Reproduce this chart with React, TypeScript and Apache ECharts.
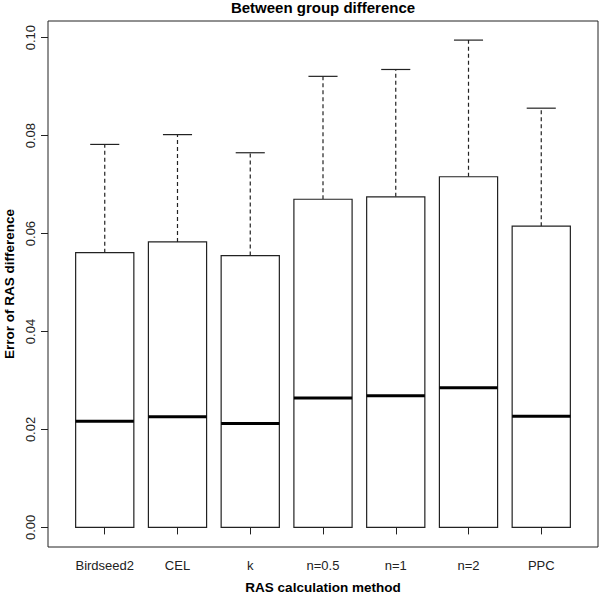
import React, { useEffect, useRef } from "react";
import * as echarts from "echarts";

const categories = ["Birdseed2", "CEL", "k", "n=0.5", "n=1", "n=2", "PPC"];
const whiskerLow = [0, 0, 0, 0, 0, 0, 0];
const q1Values = [0, 0, 0, 0, 0, 0, 0];
const medianValues = [0.0217, 0.0226, 0.0212, 0.0264, 0.0269, 0.0285, 0.0227];
const q3Values = [0.0561, 0.0583, 0.0555, 0.067, 0.0675, 0.0716, 0.0615];
const whiskerHigh = [0.0782, 0.0802, 0.0765, 0.0921, 0.0935, 0.0995, 0.0856];
const yTicks = [0, 0.02, 0.04, 0.06, 0.08, 0.1];

const FONT = "'Liberation Sans', Arial, sans-serif";
const INK = "#222";

export default function App() {
  const ref = useRef<HTMLDivElement>(null);
  useEffect(() => {
    if (!ref.current) return;
    document.body.style.margin = "0";
    const chart = echarts.init(ref.current, undefined, { renderer: "svg" });
    const positions = categories.map((_, i) => i + 1);
    const data = categories.map((_, i) => [
      i + 1,
      whiskerLow[i],
      q1Values[i],
      medianValues[i],
      q3Values[i],
      whiskerHigh[i],
    ]);
    chart.setOption({
      animation: false,
      backgroundColor: "#fff",
      title: {
        text: "Between group difference",
        left: 323,
        textAlign: "center",
        top: 0,
        padding: 0,
        textStyle: { fontFamily: FONT, fontSize: 15, fontWeight: "bold", color: "#000" },
      },
      grid: {
        left: 48,
        right: 2,
        top: 21,
        bottom: 48,
        outerBoundsMode: "none",
        containLabel: false,
        show: true,
        borderColor: INK,
        borderWidth: 1,
        backgroundColor: "transparent",
      },
      xAxis: {
        type: "value",
        min: 0.22,
        max: 7.78,
        name: "RAS calculation method",
        nameLocation: "middle",
        nameGap: 33,
        nameTextStyle: { fontFamily: FONT, fontSize: 13.5, fontWeight: "bold", color: "#000" },
        axisLine: { show: false },
        splitLine: { show: false },
        axisTick: {
          show: true,
          length: 7,
          customValues: positions,
          lineStyle: { color: INK },
        },
        axisLabel: {
          customValues: positions,
          margin: 12,
          fontFamily: FONT,
          fontSize: 13,
          color: INK,
          formatter: (v: number) => categories[Math.round(v) - 1] ?? "",
        },
      },
      yAxis: {
        type: "value",
        min: -0.004,
        max: 0.1034,
        name: "Error of RAS difference",
        nameLocation: "middle",
        nameGap: 32,
        nameRotate: 90,
        nameTextStyle: { fontFamily: FONT, fontSize: 13.5, fontWeight: "bold", color: "#000" },
        axisLine: { show: false },
        splitLine: { show: false },
        axisTick: {
          show: true,
          length: 7,
          customValues: yTicks,
          lineStyle: { color: INK },
        },
        axisLabel: {
          customValues: yTicks,
          rotate: 90,
          margin: 11,
          align: "center",
          verticalAlign: "bottom",
          fontFamily: FONT,
          fontSize: 13,
          color: INK,
          formatter: (v: number) => v.toFixed(2),
        },
      },
      series: [
        {
          type: "custom",
          data,
          encode: { x: 0, y: [1, 2, 3, 4, 5] },
          renderItem: (params: any, api: any) => {
            const x = api.value(0);
            const lo = api.value(1);
            const q1 = api.value(2);
            const med = api.value(3);
            const q3 = api.value(4);
            const hi = api.value(5);
            const half = 0.4;
            const cap = 0.2;
            const pTL = api.coord([x - half, q3]);
            const pBR = api.coord([x + half, q1]);
            const pMedL = api.coord([x - half, med]);
            const pMedR = api.coord([x + half, med]);
            const pQ3 = api.coord([x, q3]);
            const pHi = api.coord([x, hi]);
            const pQ1 = api.coord([x, q1]);
            const pLo = api.coord([x, lo]);
            const pCapHL = api.coord([x - cap, hi]);
            const pCapHR = api.coord([x + cap, hi]);
            const pCapLL = api.coord([x - cap, lo]);
            const pCapLR = api.coord([x + cap, lo]);
            const thin = { stroke: INK, lineWidth: 1.2, fill: "none" };
            return {
              type: "group",
              children: [
                {
                  type: "line",
                  shape: { x1: pQ3[0], y1: pQ3[1], x2: pHi[0], y2: pHi[1] },
                  style: { ...thin, lineDash: [4, 3] },
                },
                {
                  type: "line",
                  shape: { x1: pQ1[0], y1: pQ1[1], x2: pLo[0], y2: pLo[1] },
                  style: { ...thin, lineDash: [4, 3] },
                },
                {
                  type: "line",
                  shape: { x1: pCapHL[0], y1: pCapHL[1], x2: pCapHR[0], y2: pCapHR[1] },
                  style: thin,
                },
                {
                  type: "line",
                  shape: { x1: pCapLL[0], y1: pCapLL[1], x2: pCapLR[0], y2: pCapLR[1] },
                  style: thin,
                },
                {
                  type: "rect",
                  shape: {
                    x: pTL[0],
                    y: pTL[1],
                    width: pBR[0] - pTL[0],
                    height: pBR[1] - pTL[1],
                  },
                  style: { stroke: INK, lineWidth: 1.2, fill: "#fff" },
                },
                {
                  type: "line",
                  shape: { x1: pMedL[0], y1: pMedL[1], x2: pMedR[0], y2: pMedR[1] },
                  style: { stroke: "#000", lineWidth: 3 },
                },
              ],
            };
          },
        },
      ],
    });
    return () => chart.dispose();
  }, []);
  return <div ref={ref} style={{ width: 600, height: 595 }} />;
}
